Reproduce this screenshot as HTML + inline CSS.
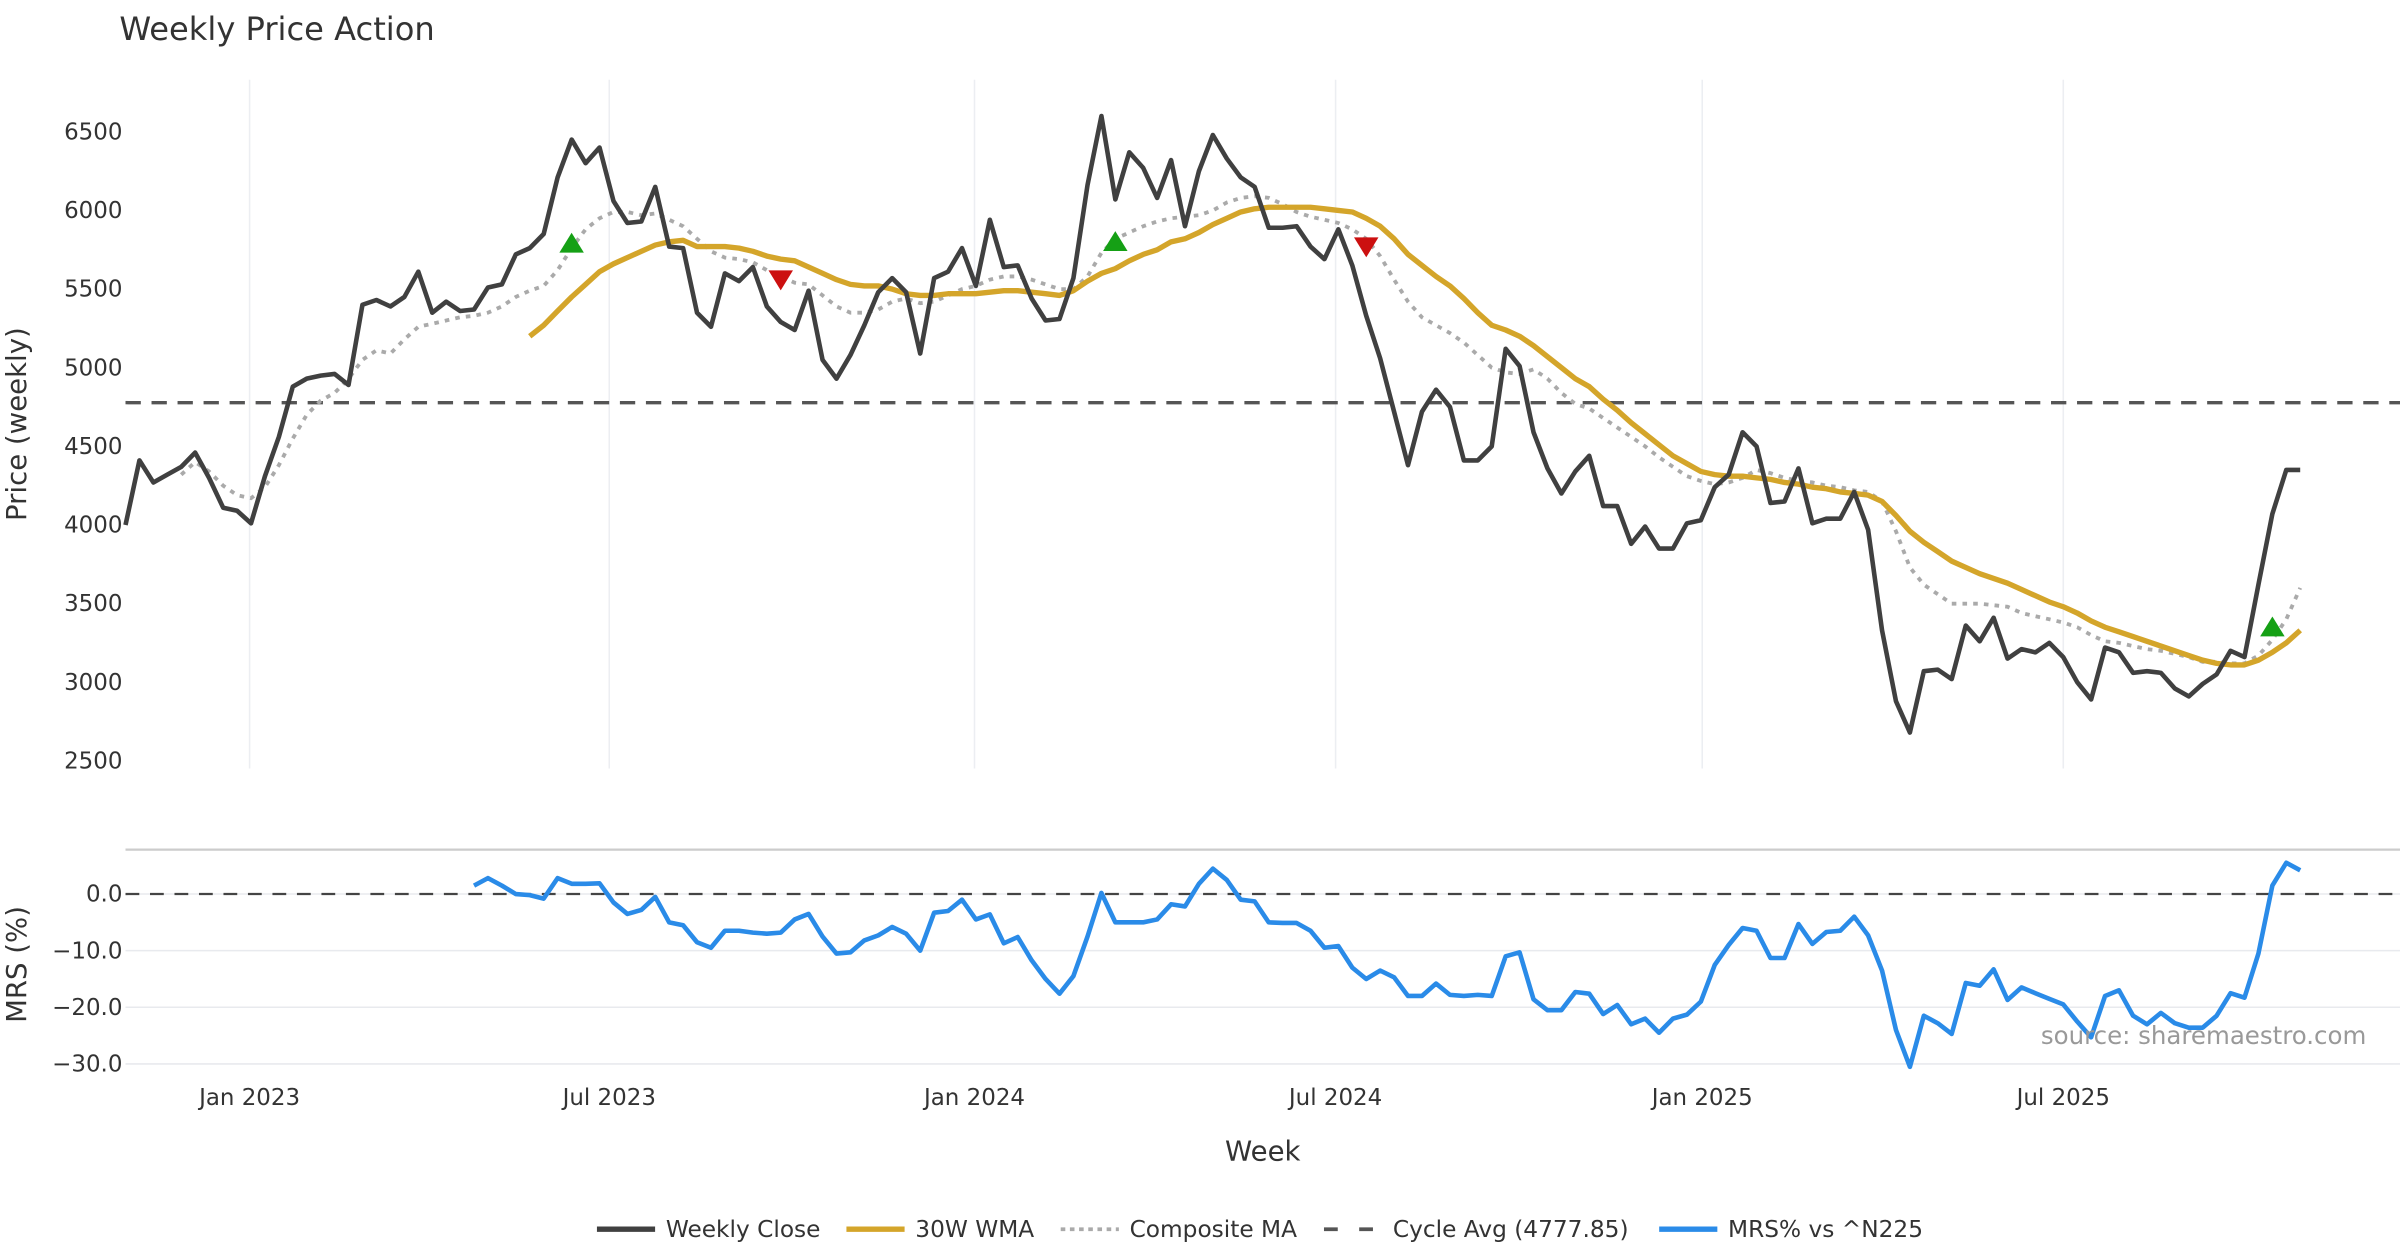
<!DOCTYPE html>
<html><head><meta charset="utf-8"><style>
html,body{margin:0;padding:0;background:#fff;}
svg{display:block;font-family:"DejaVu Sans","Liberation Sans",sans-serif;}
</style></head><body>
<svg id="chart" width="2400" height="1260" viewBox="0 0 1568 823" xmlns="http://www.w3.org/2000/svg">
<rect width="1568" height="823" fill="#fff"/>
<text x="78" y="26" font-size="21" fill="#333">Weekly Price Action</text>
<g id="grid"></g>
<g id="series"></g>
<g id="axes"></g>
<text transform="translate(17,277) rotate(-90)" text-anchor="middle" font-size="18" fill="#333">Price (weekly)</text>
<text transform="translate(17,630) rotate(-90)" text-anchor="middle" font-size="18" fill="#333">MRS (%)</text>
<text x="825" y="758" text-anchor="middle" font-size="18" fill="#333">Week</text>
<text x="1546" y="682" text-anchor="end" font-size="16" fill="#999">source: sharemaestro.com</text>
<g font-size="15.2" fill="#333">
 <g><line x1="390" y1="803" x2="428" y2="803" stroke="#404040" stroke-width="3.5"/><text x="435" y="808">Weekly Close</text></g>
 <g><line x1="553" y1="803" x2="591" y2="803" stroke="#d4a52a" stroke-width="3.5"/><text x="598" y="808">30W WMA</text></g>
 <g><line x1="693" y1="803" x2="731" y2="803" stroke="#aaa" stroke-width="2.5" stroke-dasharray="3,3"/><text x="738" y="808">Composite MA</text></g>
 <g><line x1="865" y1="803" x2="903" y2="803" stroke="#555" stroke-width="2.5" stroke-dasharray="9,14"/><text x="910" y="808">Cycle Avg (4777.85)</text></g>
 <g><line x1="1084" y1="803" x2="1122" y2="803" stroke="#2a8be8" stroke-width="3.5"/><text x="1129" y="808">MRS% vs ^N225</text></g>
</g>
</svg>
<script>
const closeVals=[4000,4410,4270,4320,4370,4460,4300,4110,4090,4010,4310,4560,4880,4930,4950,4960,4890,5400,5430,5390,5450,5610,5350,5420,5360,5370,5510,5530,5720,5760,5850,6210,6450,6300,6400,6060,5920,5930,6150,5770,5760,5350,5260,5600,5550,5640,5390,5290,5240,5490,5050,4930,5080,5270,5480,5570,5480,5090,5570,5610,5760,5520,5940,5640,5650,5440,5300,5310,5570,6160,6600,6070,6370,6270,6080,6320,5900,6250,6480,6330,6210,6150,5890,5890,5900,5770,5690,5880,5650,5330,5060,4720,4380,4720,4860,4750,4410,4410,4500,5120,5010,4590,4360,4200,4340,4440,4120,4120,3880,3990,3850,3850,4010,4030,4240,4320,4590,4500,4140,4150,4360,4010,4040,4040,4210,3970,3330,2880,2680,3070,3080,3020,3360,3260,3410,3150,3210,3190,3250,3160,3000,2890,3220,3190,3060,3070,3060,2960,2910,2990,3050,3200,3160,3620,4070,4350,4350];
const wmaStart=29;
const wmaVals=[5200,5270,5360,5450,5530,5610,5660,5700,5740,5780,5800,5810,5770,5770,5770,5760,5740,5710,5690,5680,5640,5600,5560,5530,5520,5520,5500,5470,5460,5460,5470,5470,5470,5480,5490,5490,5480,5470,5460,5490,5550,5600,5630,5680,5720,5750,5800,5820,5860,5910,5950,5990,6010,6020,6020,6020,6020,6010,6000,5990,5950,5900,5820,5720,5650,5580,5520,5440,5350,5270,5240,5200,5140,5070,5000,4930,4880,4800,4730,4650,4580,4510,4440,4390,4340,4320,4310,4310,4300,4290,4270,4260,4240,4230,4210,4200,4190,4150,4060,3960,3890,3830,3770,3730,3690,3660,3630,3590,3550,3510,3480,3440,3390,3350,3320,3290,3260,3230,3200,3170,3140,3120,3110,3110,3140,3190,3250,3330];
const compStart=4;
const compVals=[4320,4400,4340,4250,4190,4170,4240,4380,4550,4700,4790,4840,4930,5050,5110,5090,5180,5260,5280,5300,5320,5330,5350,5390,5450,5490,5520,5620,5760,5880,5950,5990,5990,5970,5980,5940,5900,5820,5740,5700,5690,5670,5620,5580,5540,5530,5460,5390,5350,5350,5370,5420,5440,5410,5420,5460,5500,5520,5560,5580,5580,5560,5530,5500,5500,5580,5730,5820,5860,5900,5930,5950,5960,5970,6000,6050,6080,6090,6080,6040,5990,5960,5940,5920,5880,5820,5710,5560,5420,5320,5270,5220,5160,5080,5000,4970,4960,4990,4930,4840,4770,4740,4680,4620,4560,4500,4430,4370,4310,4280,4260,4270,4300,4350,4330,4300,4280,4270,4250,4240,4220,4210,4150,3960,3730,3620,3560,3500,3500,3500,3490,3480,3440,3420,3400,3380,3350,3300,3260,3250,3230,3210,3200,3180,3160,3130,3130,3120,3120,3170,3270,3400,3600];
const mrsStart=25;
const mrsVals=[1.5,2.8,1.5,0,-0.2,-0.8,2.8,1.8,1.8,1.9,-1.5,-3.5,-2.8,-0.5,-5,-5.5,-8.5,-9.5,-6.5,-6.5,-6.8,-7,-6.8,-4.5,-3.5,-7.5,-10.5,-10.3,-8.2,-7.3,-5.8,-7,-10,-3.3,-3,-1,-4.5,-3.6,-8.7,-7.6,-11.7,-15,-17.6,-14.5,-7.5,0.2,-5,-5,-5,-4.5,-1.8,-2.2,1.8,4.5,2.5,-1,-1.3,-5,-5.1,-5.1,-6.5,-9.5,-9.2,-13,-15,-13.5,-14.7,-18,-18,-15.8,-17.8,-18,-17.8,-18,-11,-10.3,-18.6,-20.5,-20.5,-17.3,-17.6,-21.2,-19.6,-23,-22,-24.5,-22,-21.3,-19,-12.5,-9,-6,-6.5,-11.3,-11.3,-5.3,-8.8,-6.7,-6.5,-4,-7.3,-13.5,-24,-30.5,-21.5,-22.8,-24.7,-15.7,-16.2,-13.3,-18.7,-16.5,-17.5,-18.5,-19.5,-22.5,-25.3,-18,-17,-21.5,-23,-21,-22.8,-23.6,-23.6,-21.5,-17.5,-18.3,-10.5,1.5,5.5,4.2];
const buyIdx=[32,71,154];
const buyVals=[5790,5800,3350];
const sellIdx=[47,89];
const sellVals=[5560,5770];
const cycleAvg=4777.85;
const priceTicks=[2500,3000,3500,4000,4500,5000,5500,6000,6500];
const mrsTicks=[0,-10,-20,-30];
const mrsTickLabels=["0.0","\u221210.0","\u221220.0","\u221230.0"];
const dateLabels=["Jan 2023","Jul 2023","Jan 2024","Jul 2024","Jan 2025","Jul 2025"];
const dateWeekIdx=[8.9,34.7,60.9,86.8,113.1,139];

const NS="http://www.w3.org/2000/svg";
const X0=82,STEP=9.108,PL=82,PR=1568;
function xS(i){return X0+i*STEP;}
function yP(v){return 86+(6500-v)*(497-86)/4000;}
function yM(v){return 584-v*(695-584)/30;}
function mk(tag,attrs,parent){const e=document.createElementNS(NS,tag);for(const k in attrs)e.setAttribute(k,attrs[k]);parent.appendChild(e);return e;}
const grid=document.getElementById('grid'),ser=document.getElementById('series'),axes=document.getElementById('axes');

dateWeekIdx.forEach((w,k)=>{
 const x=xS(w);
 const gl=mk('line',{x1:x,x2:x,y1:52,y2:502,stroke:'#eceef2','stroke-width':1},grid);
 
 
 const t=mk('text',{x:x,y:722,'text-anchor':'middle','font-size':15,fill:'#333'},axes);
 t.textContent=dateLabels[k];
 
 
});
priceTicks.forEach(v=>{
 const t=mk('text',{x:80,y:yP(v)+5,'text-anchor':'end','font-size':15,fill:'#333'},axes);
 t.textContent=v;
 
 
});
mrsTicks.forEach((v,k)=>{
 const gl=mk('line',{x1:PL,x2:PR,y1:yM(v),y2:yM(v),stroke:'#e8eaee','stroke-width':1},grid);
 
 
 const t=mk('text',{x:80,y:yM(v)+5,'text-anchor':'end','font-size':15,fill:'#333'},axes);
 t.textContent=mrsTickLabels[k];
 
 
});
const topLine=mk('line',{x1:PL,x2:PR,y1:555,y2:555,stroke:'#ccc','stroke-width':1.5},grid);


const zl=mk('line',{x1:PL,x2:PR,y1:yM(0),y2:yM(0),stroke:'#444','stroke-width':1.5,'stroke-dasharray':'9,7'},grid);


const cl=mk('line',{x1:PL,x2:PR,y1:yP(cycleAvg),y2:yP(cycleAvg),stroke:'#555','stroke-width':2.2,'stroke-dasharray':'10,7'},grid);



function pathFrom(vals,start,yf){return vals.map((v,i)=>(i?'L':'M')+xS(start+i).toFixed(1)+','+yf(v).toFixed(1)).join(' ');}
const pc=mk('path',{d:pathFrom(compVals,compStart,yP),fill:'none',stroke:'#aaa','stroke-width':2.5,'stroke-dasharray':'3,4'},ser);


const pw=mk('path',{d:pathFrom(wmaVals,wmaStart,yP),fill:'none',stroke:'#d4a52a','stroke-width':3.5,'stroke-linejoin':'round'},ser);


const pcl=mk('path',{d:pathFrom(closeVals,0,yP),fill:'none',stroke:'#404040','stroke-width':3,'stroke-linejoin':'round'},ser);


const pm=mk('path',{d:pathFrom(mrsVals,mrsStart,yM),fill:'none',stroke:'#2a8be8','stroke-width':3,'stroke-linejoin':'round'},ser);


buyIdx.forEach((w,k)=>{
 const x=xS(w),y=yP(buyVals[k]);
 const p=mk('polygon',{points:`${x-8},${y+6} ${x+8},${y+6} ${x},${y-7}`,fill:'#15a015'},ser);
 
 
});
sellIdx.forEach((w,k)=>{
 const x=xS(w),y=yP(sellVals[k]);
 const p=mk('polygon',{points:`${x-8},${y-6} ${x+8},${y-6} ${x},${y+7}`,fill:'#cc1010'},ser);
 
 
});
</script>
</body></html>
